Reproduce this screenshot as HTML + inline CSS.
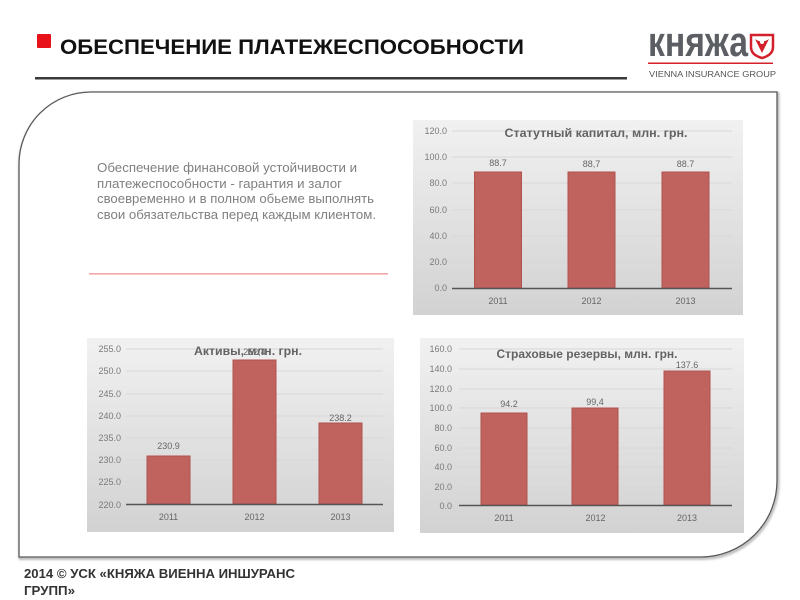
<!DOCTYPE html>
<html><head><meta charset="utf-8"><style>
html,body{margin:0;padding:0;background:#fff;width:800px;height:600px;overflow:hidden}
svg{display:block}
text{font-family:"Liberation Sans","DejaVu Sans",sans-serif}
</style></head><body>
<svg width="800" height="600" viewBox="0 0 800 600" xmlns="http://www.w3.org/2000/svg">
<defs>
<linearGradient id="bg" x1="0" y1="0" x2="0" y2="1">
<stop offset="0" stop-color="#f1f1f1"/><stop offset="1" stop-color="#d2d2d2"/>
</linearGradient>
<filter id="sh" x="-5%" y="-5%" width="110%" height="110%"><feGaussianBlur stdDeviation="1.2"/></filter>
</defs>
<!-- header -->
<rect x="37" y="34" width="14" height="14" fill="#e8121b" rx="1"/>
<text x="60" y="54" font-size="21" font-weight="bold" fill="#111" textLength="464" lengthAdjust="spacingAndGlyphs">ОБЕСПЕЧЕНИЕ ПЛАТЕЖЕСПОСОБНОСТИ</text>
<rect x="35" y="77" width="592" height="2.5" fill="#3a3a3a"/>
<!-- logo -->
<g transform="translate(648,56) scale(1,1.36)">
<text x="0" y="0" font-size="31" font-weight="bold" fill="#5b5e62" textLength="100" lengthAdjust="spacingAndGlyphs">княжа</text>
</g>
<path d="M751,35 L773,35 L773,47 Q773,55 762,58 Q751,55 751,47 Z" fill="#fff" stroke="#d4202a" stroke-width="2.5"/>
<path d="M755,39 Q762,44 769,39 L762,53 Z" fill="#d4202a"/>
<circle cx="762" cy="42" r="2" fill="#fff"/>
<rect x="648" y="62.5" width="125" height="1.5" fill="#d4202a"/>
<text x="649" y="77" font-size="8" fill="#555" textLength="127" lengthAdjust="spacingAndGlyphs">VIENNA INSURANCE GROUP</text>
<!-- frame -->
<path d="M19,557 L19,164 A72,72 0 0 1 91,92 L777,92 L777,481 A76,76 0 0 1 701,557 Z" fill="none" stroke="#999" stroke-width="2" filter="url(#sh)" transform="translate(1,1.5)"/>
<path d="M19,557 L19,164 A72,72 0 0 1 91,92 L777,92 L777,481 A76,76 0 0 1 701,557 Z" fill="#fff" stroke="#5a5a5a" stroke-width="1.3"/>
<!-- paragraph -->
<g font-size="12.5" fill="#808080">
<text x="97" y="172" textLength="260" lengthAdjust="spacingAndGlyphs">Обеспечение финансовой устойчивости и</text>
<text x="97" y="188" textLength="245" lengthAdjust="spacingAndGlyphs">платежеспособности - гарантия и залог</text>
<text x="97" y="203" textLength="277" lengthAdjust="spacingAndGlyphs">своевременно и в полном обьеме выполнять</text>
<text x="97" y="219" textLength="279" lengthAdjust="spacingAndGlyphs">свои обязательства перед каждым клиентом.</text>
</g>
<rect x="89" y="273" width="299" height="1.6" fill="#f2a6a6"/>

<!-- chart 1 -->
<rect x="413" y="120" width="330" height="195" fill="url(#bg)"/>
<g stroke="#d7d7d7" stroke-width="1">
<line x1="452" y1="131" x2="732" y2="131"/><line x1="452" y1="157" x2="732" y2="157"/><line x1="452" y1="183" x2="732" y2="183"/><line x1="452" y1="210" x2="732" y2="210"/><line x1="452" y1="236" x2="732" y2="236"/><line x1="452" y1="262" x2="732" y2="262"/>
</g>
<g font-size="9" fill="#7a7a7a" text-anchor="end">
<text x="447" y="134">120.0</text><text x="447" y="160">100.0</text><text x="447" y="186">80.0</text><text x="447" y="213">60.0</text><text x="447" y="239">40.0</text><text x="447" y="265">20.0</text><text x="447" y="291">0.0</text>
</g>
<g fill="#c0625e" stroke="#b0524e" stroke-width="1">
<rect x="474.5" y="172" width="47" height="116"/><rect x="568" y="172" width="47" height="116"/><rect x="662" y="172" width="47" height="116"/>
</g>
<line x1="452" y1="288.5" x2="732" y2="288.5" stroke="#555" stroke-width="1.6"/>
<g font-size="9" fill="#666" text-anchor="middle">
<text x="498" y="166">88.7</text><text x="591.5" y="167">88,7</text><text x="685.5" y="167">88.7</text>
<text x="498" y="304">2011</text><text x="591.5" y="304">2012</text><text x="685.5" y="304">2013</text>
</g>
<text x="596" y="137" font-size="11.5" font-weight="bold" fill="#636363" text-anchor="middle" textLength="183" lengthAdjust="spacingAndGlyphs">Статутный капитал, млн. грн.</text>

<!-- chart 2 -->
<rect x="87" y="338" width="307" height="194" fill="url(#bg)"/>
<g stroke="#d7d7d7" stroke-width="1">
<line x1="126" y1="349" x2="383" y2="349"/><line x1="126" y1="371" x2="383" y2="371"/><line x1="126" y1="394" x2="383" y2="394"/><line x1="126" y1="416" x2="383" y2="416"/><line x1="126" y1="438" x2="383" y2="438"/><line x1="126" y1="460" x2="383" y2="460"/><line x1="126" y1="482" x2="383" y2="482"/>
</g>
<g font-size="9" fill="#7a7a7a" text-anchor="end">
<text x="121" y="352">255.0</text><text x="121" y="374">250.0</text><text x="121" y="397">245.0</text><text x="121" y="419">240.0</text><text x="121" y="441">235.0</text><text x="121" y="463">230.0</text><text x="121" y="485">225.0</text><text x="121" y="508">220.0</text>
</g>
<g fill="#c0625e" stroke="#b0524e" stroke-width="1">
<rect x="147" y="456" width="43" height="48"/><rect x="233" y="360" width="43" height="144"/><rect x="319" y="423" width="43" height="81"/>
</g>
<line x1="126" y1="504.5" x2="383" y2="504.5" stroke="#555" stroke-width="1.6"/>
<g font-size="9" fill="#666" text-anchor="middle">
<text x="168.5" y="449">230.9</text><text x="254.5" y="355">252,4</text><text x="340.5" y="421">238.2</text>
<text x="168.5" y="520">2011</text><text x="254.5" y="520">2012</text><text x="340.5" y="520">2013</text>
</g>
<text x="248" y="355" font-size="11.5" font-weight="bold" fill="#636363" text-anchor="middle" textLength="108" lengthAdjust="spacingAndGlyphs">Активы, млн. грн.</text>

<!-- chart 3 -->
<rect x="420" y="338" width="324" height="195" fill="url(#bg)"/>
<g stroke="#d7d7d7" stroke-width="1">
<line x1="459" y1="349" x2="732" y2="349"/><line x1="459" y1="369" x2="732" y2="369"/><line x1="459" y1="389" x2="732" y2="389"/><line x1="459" y1="408" x2="732" y2="408"/><line x1="459" y1="428" x2="732" y2="428"/><line x1="459" y1="448" x2="732" y2="448"/><line x1="459" y1="467" x2="732" y2="467"/><line x1="459" y1="487" x2="732" y2="487"/>
</g>
<g font-size="9" fill="#7a7a7a" text-anchor="end">
<text x="452" y="352">160.0</text><text x="452" y="372">140.0</text><text x="452" y="392">120.0</text><text x="452" y="411">100.0</text><text x="452" y="431">80.0</text><text x="452" y="451">60.0</text><text x="452" y="470">40.0</text><text x="452" y="490">20.0</text><text x="452" y="509">0.0</text>
</g>
<g fill="#c0625e" stroke="#b0524e" stroke-width="1">
<rect x="481" y="413" width="46" height="92"/><rect x="572" y="408" width="46" height="97"/><rect x="664" y="371" width="46" height="134"/>
</g>
<line x1="459" y1="505.5" x2="732" y2="505.5" stroke="#555" stroke-width="1.6"/>
<g font-size="9" fill="#666" text-anchor="middle">
<text x="509" y="407">94.2</text><text x="595" y="405">99,4</text><text x="687" y="368">137.6</text>
<text x="504" y="521">2011</text><text x="595.5" y="521">2012</text><text x="687" y="521">2013</text>
</g>
<text x="587" y="358" font-size="11.5" font-weight="bold" fill="#636363" text-anchor="middle" textLength="181" lengthAdjust="spacingAndGlyphs">Страховые резервы, млн. грн.</text>

<!-- footer -->
<g font-size="13" font-weight="bold" fill="#333">
<text x="24" y="578" textLength="271" lengthAdjust="spacingAndGlyphs">2014  © УСК «КНЯЖА ВИЕННА ИНШУРАНС</text>
<text x="24" y="595" textLength="51" lengthAdjust="spacingAndGlyphs">ГРУПП»</text>
</g>
</svg>
</body></html>
